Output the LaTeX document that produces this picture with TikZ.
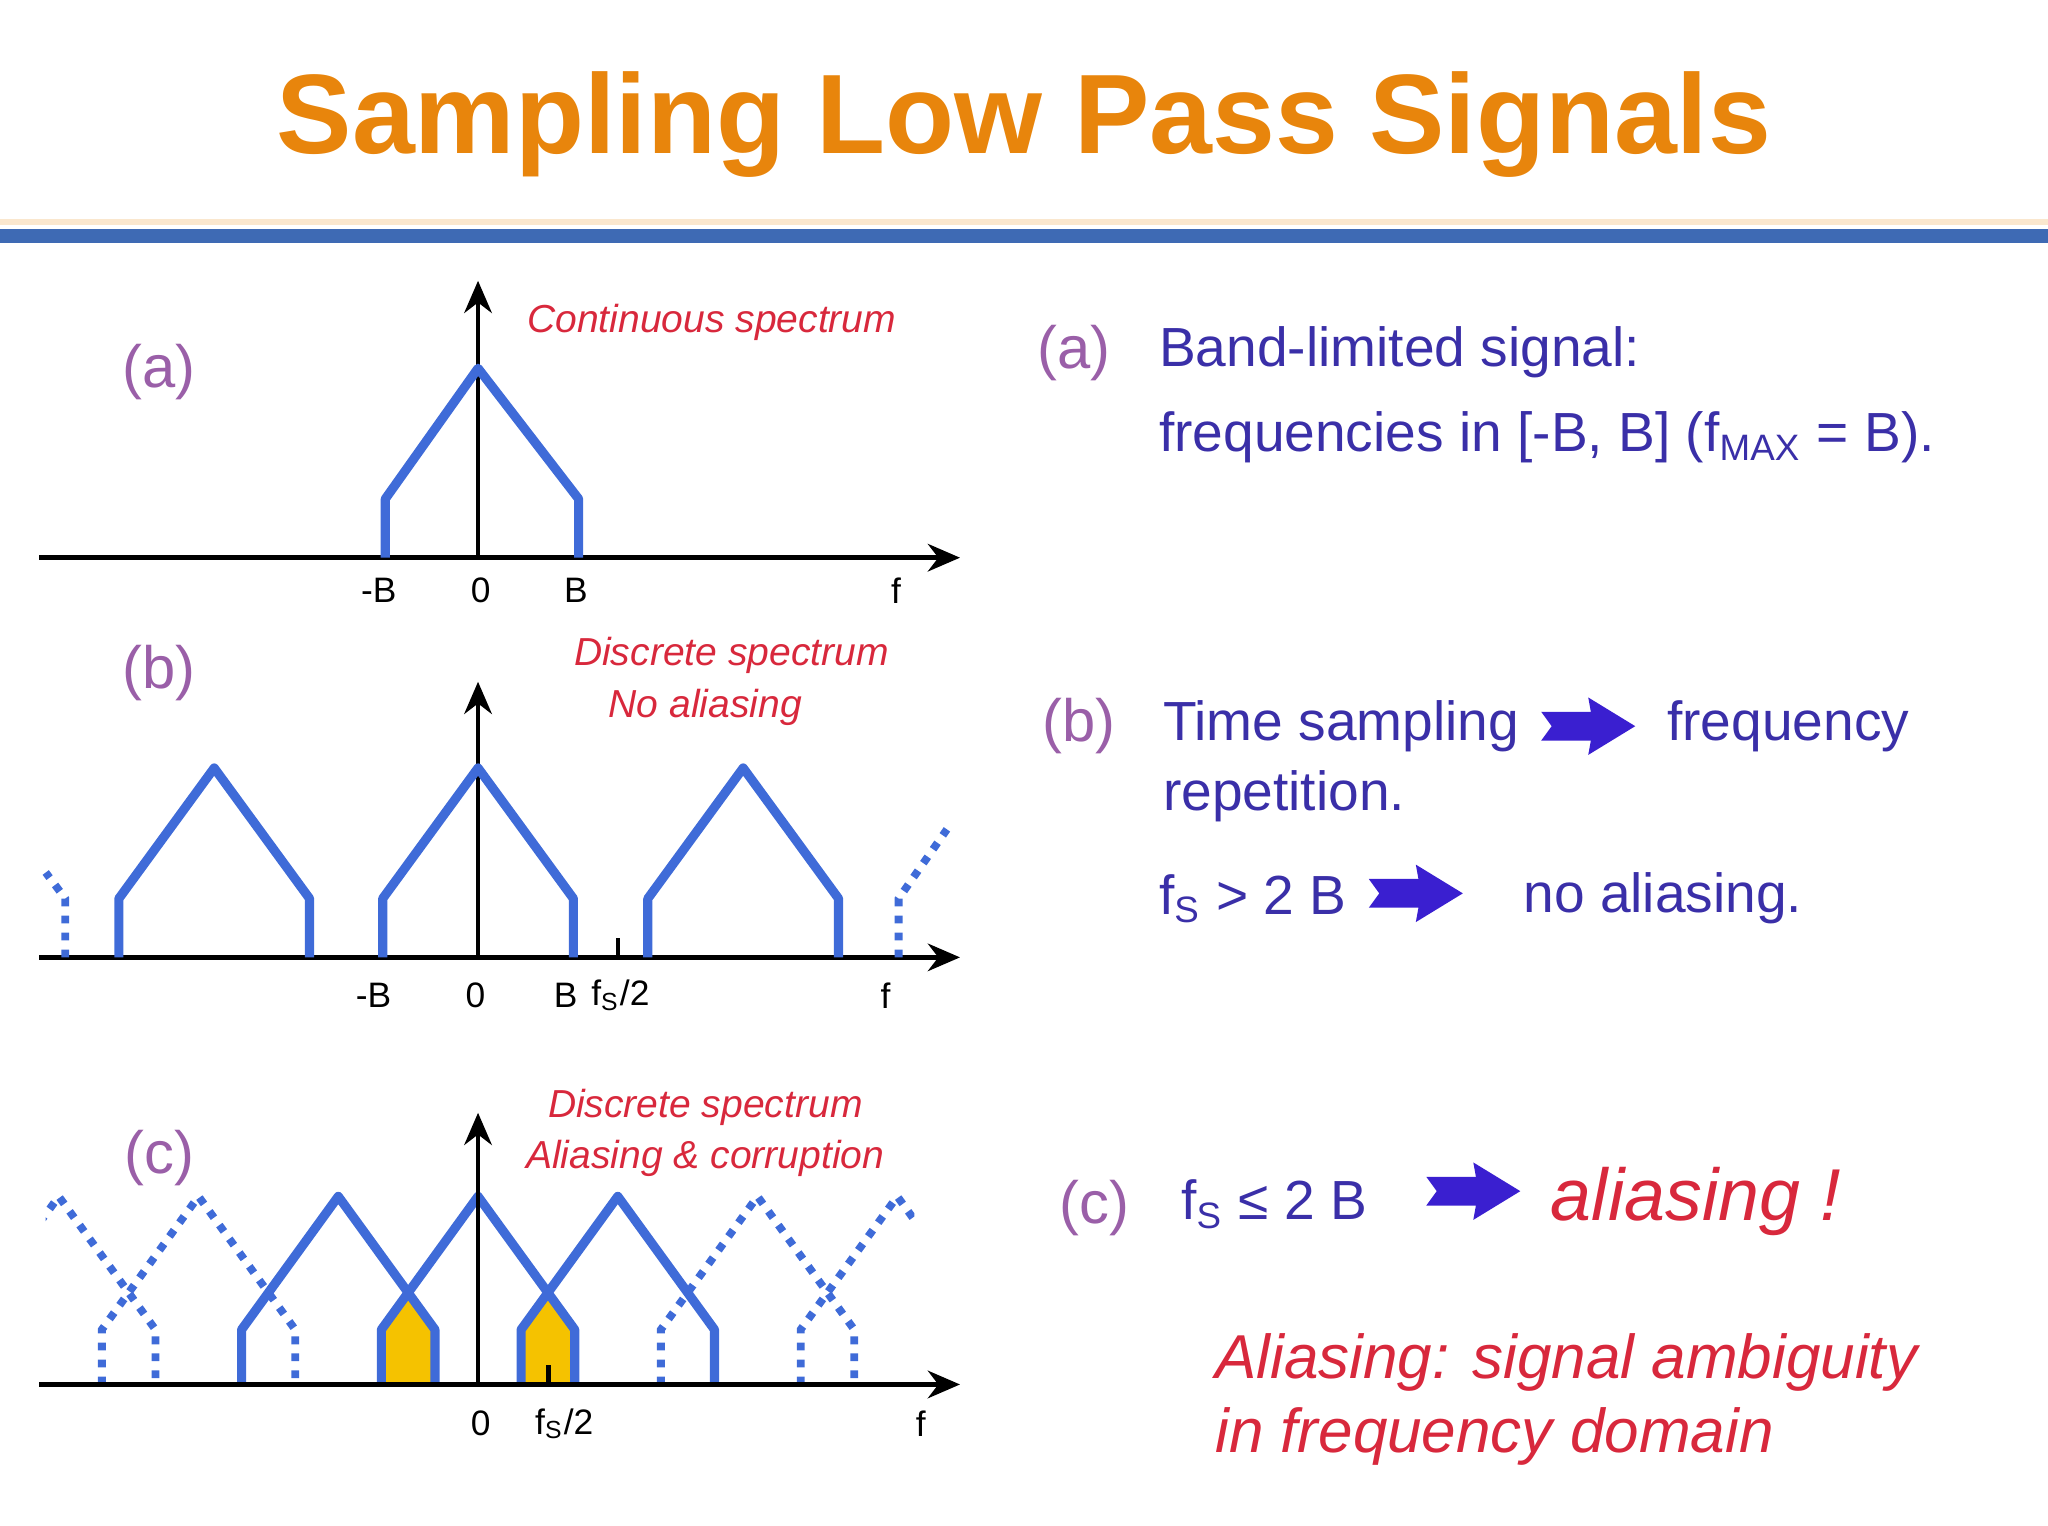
\documentclass[tikz,border=0pt]{standalone}
\usepackage{fontspec}
\setmainfont{Liberation Sans}
\usetikzlibrary{shapes.arrows,arrows.meta}
\definecolor{ttl}{HTML}{E8850C}
\definecolor{sig}{HTML}{3F6BD8}
\definecolor{bar}{HTML}{3E6AB4}
\definecolor{lbl}{HTML}{9A5FA8}
\definecolor{txt}{HTML}{3A2FA8}
\definecolor{redt}{HTML}{D8283C}
\definecolor{arr}{HTML}{3A1FD0}
\definecolor{yel}{HTML}{F5C200}
\begin{document}
\begin{tikzpicture}[x=0.01cm,y=-0.01cm,
  sg/.style={sig,line width=2pt,line join=round},
  dsg/.style={sig,line width=1.7pt,dotted},
  ax/.style={line width=1pt,-{Stealth[length=7pt,width=6pt]}},
  al/.style={font=\fontsize{7.7}{9}\selectfont},
  pl/.style={lbl,font=\fontsize{13}{15}\selectfont},
  rn/.style={redt,font=\fontsize{8.5}{10}\selectfont\itshape},
  tx/.style={txt,font=\fontsize{12}{14}\selectfont,anchor=west},
  barrow/.style={fill=arr}]
\useasboundingbox (0,0) rectangle (1568,1168);
\node (title) at (784,95) {\fontsize{24.6}{28}\selectfont\bfseries\color{ttl}Sampling Low Pass Signals};
\fill[ttl!20] (0,168) rectangle (1568,172);
\fill[bar] (0,175) rectangle (1568,186);
% (a)
\node[pl] (la) at (122,285) {(a)};
\coordinate (a0) at (30,427); \coordinate (a1) at (735,427);
\draw[ax] (a0) -- (a1);
\coordinate (av0) at (366,427); \coordinate (av1) at (366,215);
\draw[ax] (av0) -- (av1);
\draw[sg] (295,427) -- (295,382) -- (366,282) -- (443,382) -- (443,427);
\node[al] (amb) at (290,452) {-B}; \node[al] (a0l) at (368,452) {0};
\node[al] (abl) at (441,452) {B}; \node[al] (afl) at (686,452) {f};
\node[rn] (ra) at (545,247) {Continuous spectrum};
% (b)
\node[pl] (lb) at (122,515) {(b)};
\coordinate (b0) at (30,733); \coordinate (b1) at (735,733);
\draw[ax] (b0) -- (b1);
\coordinate (bv0) at (366,733); \coordinate (bv1) at (366,522);
\draw[ax] (bv0) -- (bv1);
\foreach \c in {164,366,569}{
  \draw[sg] (\c-73,733) -- (\c-73,688) -- (\c,588) -- (\c+73,688) -- (\c+73,733);}
\draw[dsg] (50,733) -- (50,688) -- (35,668);
\draw[dsg] (688,733) -- (688,688) -- (725,635);
\draw[line width=1pt] (473,733) -- (473,718);
\node[al] (bmb) at (286,762) {-B}; \node[al] (b0l) at (364,762) {0};
\node[al] (bbl) at (433,762) {B}; \node[al] (bfs) at (475,762) {f$_\mathrm{S}$/2};
\node[al] (bfl) at (678,762) {f};
\node[rn] (rb1) at (560,502) {Discrete spectrum};
\node[rn] (rb2) at (540,542) {No aliasing};
% (c)
\node[pl] (lc) at (122,887) {(c)};
\fill[yel] (295,1060) -- (295,1018) -- (314,991) -- (333,1018) -- (333,1060) -- cycle;
\fill[yel] (399,1060) -- (399,1018) -- (419,990) -- (443,1018) -- (443,1060) -- cycle;
\begin{scope}
\clip (35,880) rectangle (700,1070);
\foreach \c in {45,152,580,687}{
  \draw[dsg] (\c-74,1060) -- (\c-74,1018) -- (\c,916) -- (\c+74,1018) -- (\c+74,1060);}
\foreach \c in {259,366,473}{
  \draw[sg] (\c-74,1060) -- (\c-74,1018) -- (\c,916) -- (\c+74,1018) -- (\c+74,1060);}
\end{scope}
\coordinate (c0) at (30,1060); \coordinate (c1) at (735,1060);
\draw[ax] (c0) -- (c1);
\coordinate (cv0) at (366,1060); \coordinate (cv1) at (366,852);
\draw[ax] (cv0) -- (cv1);
\draw[line width=1pt] (420,1060) -- (420,1045);
\node[al] (c0l) at (368,1090) {0}; \node[al] (cfs) at (432,1090) {f$_\mathrm{S}$/2};
\node[al] (cfl) at (705,1090) {f};
\node[rn] (rc1) at (540,848) {Discrete spectrum};
\node[rn] (rc2) at (540,887) {Aliasing \& corruption};
% right text
\node[pl] (ra2) at (822,270) {(a)};
\node[tx] (t1) at (875,270) {Band-limited signal:};
\node[tx] (t2) at (875,335) {frequencies in [-B, B] (f$_\mathrm{MAX}$ = B).};
\node[pl] (rb) at (826,556) {(b)};
\node[tx] (t3) at (878,556) {Time sampling};
\foreach \x/\y in {1180/556, 1048/684, 1092/912}{
  \fill[barrow] (\x,\y-11) -- (\x+38,\y-11) -- (\x+36,\y-22) -- (\x+72,\y) -- (\x+36,\y+22) -- (\x+38,\y+11) -- (\x,\y+11) -- (\x+8,\y) -- cycle;}
\node[tx] (t4) at (1264,556) {frequency};
\node[tx] (t5) at (878,610) {repetition.};
\node[tx] (t6) at (875,688) {f$_\mathrm{S}$ > 2 B};
\node[tx] (t7) at (1154,688) {no aliasing.};
\node[pl] (rc) at (838,925) {(c)};
\node[tx] (t8) at (892,922) {f$_\mathrm{S}$ ≤ 2 B};
\node[redt,anchor=west,font=\fontsize{16}{18}\selectfont\itshape] (t9) at (1175,920) {aliasing !};
\node[redt,anchor=west,font=\fontsize{13.5}{15}\selectfont\itshape] (t10) at (918,1043) {Aliasing: signal ambiguity};
\node[redt,anchor=west,font=\fontsize{13.5}{15}\selectfont\itshape] (t11) at (918,1100) {in frequency domain};
\end{tikzpicture}
\end{document}
